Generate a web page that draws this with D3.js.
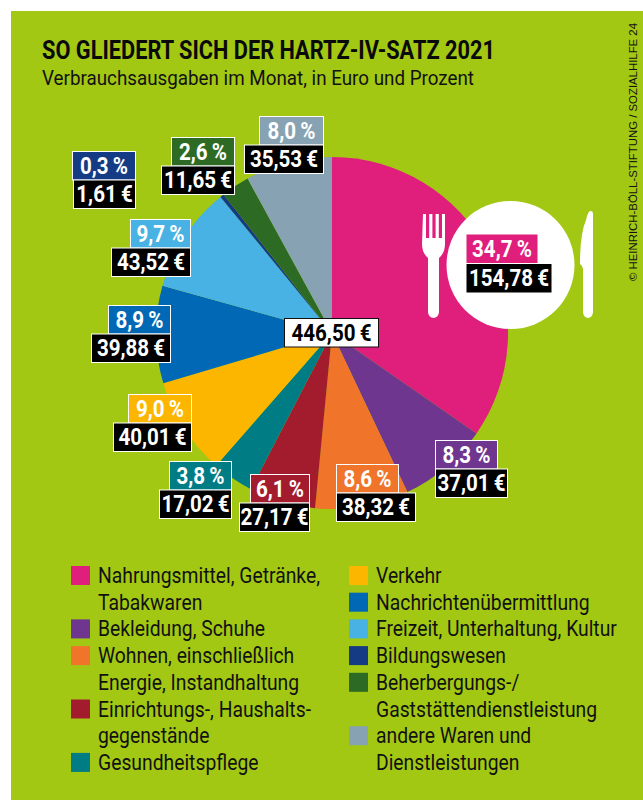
<!DOCTYPE html>
<html><head><meta charset="utf-8">
<script src="https://cdn.jsdelivr.net/npm/d3@7"></script>
<style>html,body{margin:0;padding:0;background:#fff}svg{display:block}text{font-family:Roboto,"Liberation Sans",sans-serif}</style>
</head><body><svg id="c" width="643" height="800"></svg>
<script>
const categories=["Nahrungsmittel, Getränke, Tabakwaren","Bekleidung, Schuhe","Wohnen, einschließlich Energie, Instandhaltung","Einrichtungs-, Haushaltsgegenstände","Gesundheitspflege","Verkehr","Nachrichtenübermittlung","Freizeit, Unterhaltung, Kultur","Bildungswesen","Beherbergungs-/Gaststättendienstleistung","andere Waren und Dienstleistungen"];
const euros=[154.78,37.01,38.32,27.17,17.02,40.01,39.88,43.52,1.61,11.65,35.53];
const percents=[34.7,8.3,8.6,6.1,3.8,9.0,8.9,9.7,0.3,2.6,8.0];
const colors=["#e01e7b","#6f368f","#f0742a","#a31c2e","#007c85","#fdb600","#0068b4","#47b2e3","#163b85","#2d6b24","#86a2b3"];
const total=446.50;
const title="SO GLIEDERT SICH DER HARTZ-IV-SATZ 2021";
const subtitle="Verbrauchsausgaben im Monat, in Euro und Prozent";
const credit="© HEINRICH-BÖLL-STIFTUNG / SOZIALHILFE 24";
const legendLines=[["Nahrungsmittel, Getränke,","Tabakwaren"],["Bekleidung, Schuhe"],["Wohnen, einschließlich","Energie, Instandhaltung"],["Einrichtungs-, Haushalts-","gegenstände"],["Gesundheitspflege"],["Verkehr"],["Nachrichtenübermittlung"],["Freizeit, Unterhaltung, Kultur"],["Bildungswesen"],["Beherbergungs-/","Gaststättendienstleistung"],["andere Waren und","Dienstleistungen"]];
// label box layout: pct x, top y, pct width, euro x, euro width
const boxLayout=[[466,234,72,466,86],[435,440,63,435,73],[336,464,63,336,80],[250,474,60,239,71],[169,461,63,159,73],[128,394,64,113,79],[108,305,63,91,80],[130,219,61,111,80],[72,151,64,73,63],[171,137,64,161,74],[259,116,65,244,80]];

const svg=d3.select("#c");
function fitTo(sel,w){sel.attr("textLength",w).attr("lengthAdjust","spacingAndGlyphs");return sel;}
function fitBy(sel,k){return fitTo(sel,sel.node().getComputedTextLength()*k);}
svg.append("rect").attr("x",11).attr("y",11).attr("width",632).attr("height",789).attr("fill","#a2c814");
fitTo(svg.append("text").attr("x",42).attr("y",59).attr("font-size",25).attr("font-weight",700).attr("fill","#0a0a0a").text(title),453);
fitTo(svg.append("text").attr("x",42).attr("y",85).attr("font-size",20.5).attr("fill","#111").text(subtitle),432);
fitTo(svg.append("text").attr("transform","translate(637,281) rotate(-90)").attr("font-size",11.3).attr("fill","#111").style("font-family","'Liberation Sans',sans-serif").text(credit),258);

const cx=332,cy=333,R=176;
const pie=d3.pie().sort(null).startAngle(0).endAngle(2*Math.PI)(euros);
const arc=d3.arc().innerRadius(0).outerRadius(R);
svg.append("g").attr("transform",`translate(${cx},${cy})`).selectAll("path").data(pie).join("path").attr("d",arc).attr("fill",(d,i)=>colors[i]);

// plate and cutlery
svg.append("circle").attr("cx",510.5).attr("cy",265).attr("r",64).attr("fill","#fff");
svg.append("path").attr("fill","#fff").attr("d","M423 214h3v24h3.2v-24h3.2v24h3.2v-24h3.2v24h3.2v-24h3v30q0 9-6 14v54a5.5 6 0 0 1-11 0v-54q-6-5-6-14z");
svg.append("path").attr("fill","#fff").attr("d","M590.5 211q2.5 0 2.5 3v98a5 6 0 0 1-10 0v-43q0-3-3-5q0-30 6-44q2-9 4.5-9z");

const fmtLoc=d3.formatLocale({decimal:",",thousands:".",grouping:[3],currency:["","€"]});
const f1=fmtLoc.format(".1f"),f2=fmtLoc.format(".2f");
const h1=28.5,boxFont=24;
const probe=svg.append("text").attr("font-size",boxFont).attr("font-weight",700).text("446,50\u2009€");
const boxK=80/probe.node().getComputedTextLength();probe.remove();
function box(x,y,w,h,fill,stroke,txt,tc){
  const g=svg.append("g");
  g.append("rect").attr("x",x+.5).attr("y",y+.5).attr("width",w-1).attr("height",h).attr("fill",fill).attr("stroke",stroke).attr("stroke-width",1);
  fitBy(g.append("text").attr("x",x+w/2).attr("y",y+h/2+8.5).attr("text-anchor","middle").attr("font-size",boxFont).attr("font-weight",700).attr("fill",tc).text(txt),boxK);
}
euros.forEach((e,i)=>{
  const [px,t,pw,ex,ew]=boxLayout[i];
  const st=i===0?"none":"#fff";
  box(px,t,pw,h1,colors[i],st,f1(percents[i])+"\u2009%","#fff");
  box(ex,t+h1+(i===0?1:0),ew,h1,"#000",st,f2(e)+"\u2009€","#fff");
});
box(284,318,95,28.5,"#fff","#111",f2(total)+"\u2009€","#000");

// legend
const rowH=26.7,lx=[71,349],ly=566,legFont=21.5;
const lp=svg.append("text").attr("font-size",legFont).text(legendLines[0][0]);
const legK=222/lp.node().getComputedTextLength();lp.remove();
let col=0,row=0;
legendLines.forEach((ls,i)=>{
  if(i===5){col=1;row=0;}
  svg.append("rect").attr("x",lx[col]).attr("y",ly+row*rowH).attr("width",19).attr("height",19).attr("fill",colors[i]);
  ls.forEach(s=>{
    fitBy(svg.append("text").attr("x",lx[col]+27).attr("y",ly+17+row*rowH).attr("font-size",legFont).attr("fill","#111").text(s),legK);
    row++;
  });
});
</script></body></html>
